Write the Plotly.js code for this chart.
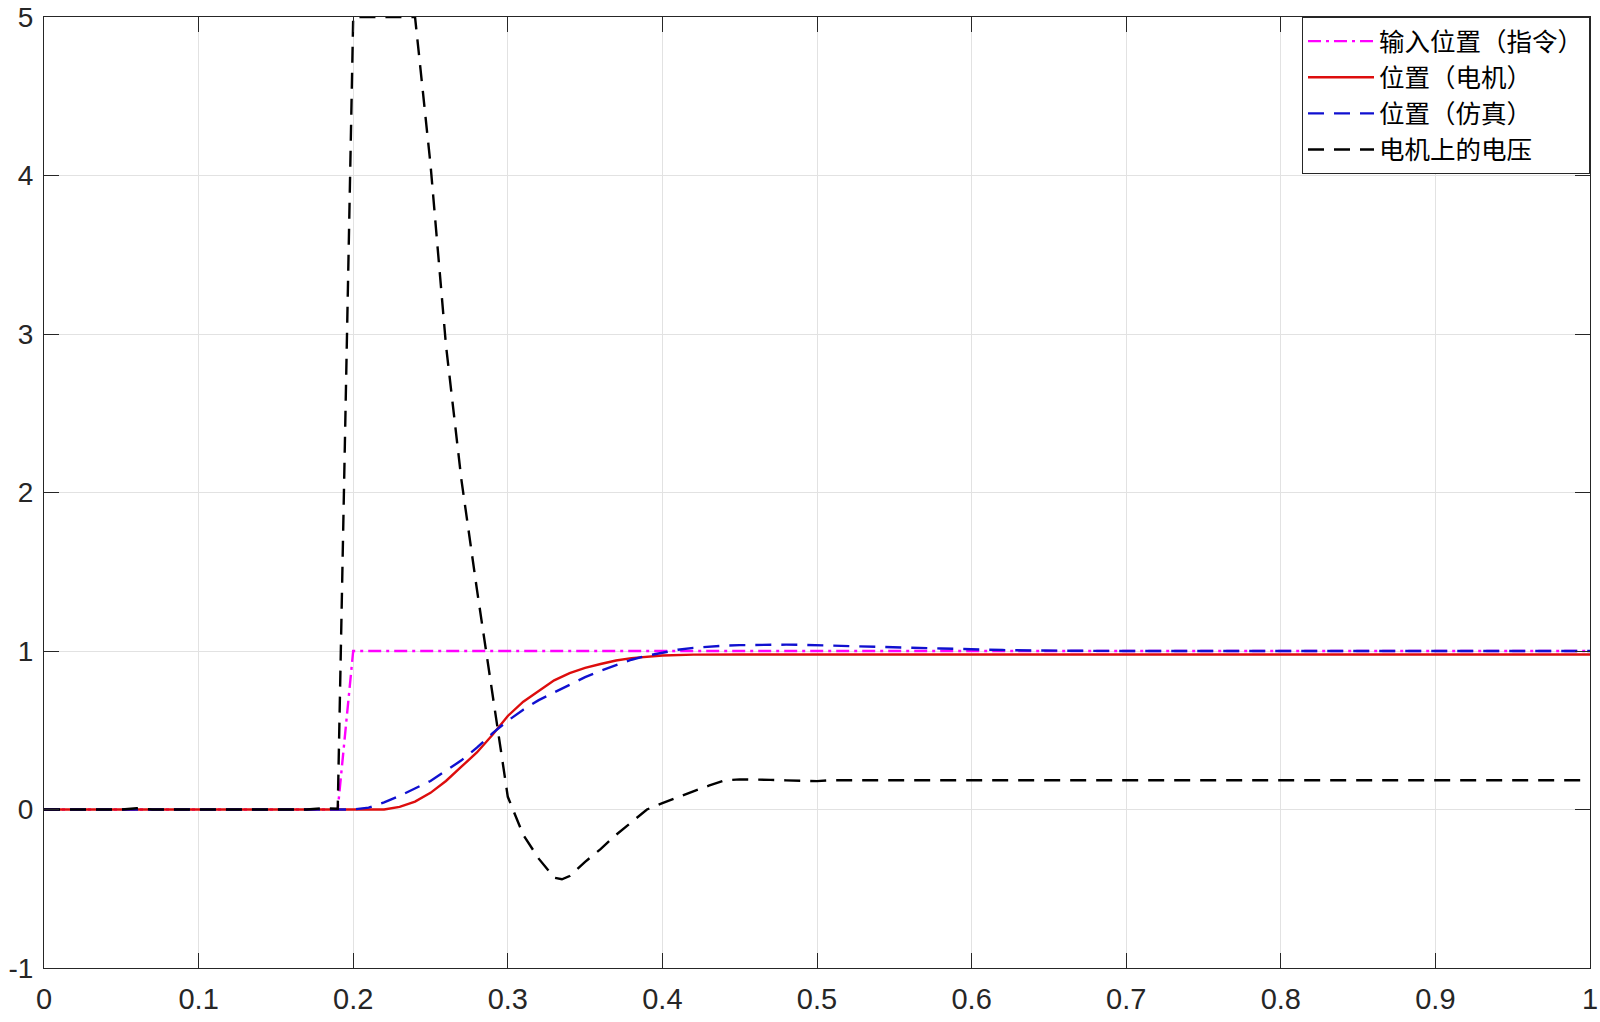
<!DOCTYPE html>
<html>
<head>
<meta charset="utf-8">
<script src="https://cdn.plot.ly/plotly-3.0.1.min.js"></script>
<style>
html,body{margin:0;padding:0;background:#fff;}
#chart{width:1600px;height:1022px;}
#chart text{text-spacing-trim: space-all;}
</style>
</head>
<body>
<div id="chart"></div>
<script>
// ---- data ----
const seriesNames = ['输入位置（指令）', '位置（电机）', '位置（仿真）', '电机上的电压'];

const tCmd = [0, 0.19, 0.2, 1.0];
const posCmd = [0, 0, 1, 1];

const tMotor = [0, 0.22, 0.23, 0.24, 0.25, 0.26, 0.27, 0.28, 0.29, 0.30, 0.31, 0.32, 0.33, 0.34, 0.35, 0.36, 0.37, 0.38, 0.39, 0.40, 0.42, 0.45, 1.0];
const posMotor = [0, 0, 0.017, 0.05, 0.105, 0.18, 0.27, 0.36, 0.47, 0.59, 0.68, 0.75, 0.815, 0.86, 0.893, 0.918, 0.94, 0.955, 0.965, 0.972, 0.977, 0.978, 0.978];

const tSim = [0, 0.20, 0.21, 0.22, 0.23, 0.24, 0.25, 0.26, 0.27, 0.28, 0.29, 0.30, 0.31, 0.32, 0.33, 0.34, 0.35, 0.36, 0.37, 0.38, 0.39, 0.40, 0.41, 0.42, 0.43, 0.44, 0.45, 0.46, 0.47, 0.48, 0.49, 0.50, 0.52, 0.54, 0.56, 0.58, 0.60, 0.62, 0.64, 0.66, 0.70, 1.0];
const posSim = [0, 0, 0.012, 0.045, 0.086, 0.135, 0.18, 0.245, 0.31, 0.39, 0.48, 0.56, 0.63, 0.69, 0.74, 0.79, 0.835, 0.875, 0.91, 0.945, 0.97, 0.99, 1.008, 1.02, 1.028, 1.034, 1.037, 1.039, 1.04, 1.04, 1.039, 1.037, 1.032, 1.027, 1.021, 1.016, 1.01, 1.006, 1.003, 1.001, 1.0, 1.0];

const tVolt = [0, 0.05, 0.06, 0.07, 0.17, 0.18, 0.19, 0.20, 0.24, 0.25, 0.26, 0.27, 0.28, 0.29, 0.30, 0.31, 0.32, 0.33, 0.335, 0.34, 0.35, 0.36, 0.37, 0.38, 0.39, 0.40, 0.41, 0.42, 0.43, 0.44, 0.45, 0.46, 0.47, 0.48, 0.49, 0.50, 0.51, 1.0];
const volt = [0, 0, 0.008, 0, 0, 0.008, 0.005, 5, 5, 4.07, 2.93, 2.08, 1.39, 0.72, 0.08, -0.16, -0.31, -0.43, -0.44, -0.42, -0.33, -0.25, -0.16, -0.08, 0.0, 0.04, 0.08, 0.115, 0.15, 0.183, 0.19, 0.19, 0.187, 0.184, 0.181, 0.179, 0.185, 0.185];

const xTickVals = [0, 0.1, 0.2, 0.3, 0.4, 0.5, 0.6, 0.7, 0.8, 0.9, 1];
const xTickText = ['0', '0.1', '0.2', '0.3', '0.4', '0.5', '0.6', '0.7', '0.8', '0.9', '1'];
const yTickVals = [-1, 0, 1, 2, 3, 4, 5];
const yTickText = ['-1', '0', '1', '2', '3', '4', '5'];

// ---- traces ----
const traces = [
  {x: tCmd, y: posCmd, name: seriesNames[0], mode: 'lines',
   line: {color: '#ff00ff', width: 2.4, dash: '13px,5px,3px,5px'}},
  {x: tMotor, y: posMotor, name: seriesNames[1], mode: 'lines',
   line: {color: '#dd0d0d', width: 2.4}},
  {x: tSim, y: posSim, name: seriesNames[2], mode: 'lines',
   line: {color: '#1010d0', width: 2.4, dash: '16px,10px'}},
  {x: tVolt, y: volt, name: seriesNames[3], mode: 'lines',
   line: {color: '#000000', width: 2.4, dash: '16px,10px'}}
];

const axisCommon = {
  showline: true, linecolor: '#262626', linewidth: 1, mirror: 'ticks',
  ticks: 'inside', ticklen: 15, tickwidth: 1, tickcolor: '#262626',
  showgrid: true, gridcolor: '#e2e2e2', gridwidth: 1,
  zeroline: false
};

const layout = {
  width: 1600, height: 1022,
  margin: {l: 44, r: 10, t: 17, b: 54, pad: 0},
  paper_bgcolor: '#ffffff', plot_bgcolor: '#ffffff',
  showlegend: true,
  xaxis: Object.assign({}, axisCommon, {
    range: [0, 1], tickmode: 'array', tickvals: xTickVals, ticktext: xTickText,
    ticklabelstandoff: 5,
    tickfont: {family: 'Liberation Sans, Arial, sans-serif', size: 29, color: '#262626'}
  }),
  yaxis: Object.assign({}, axisCommon, {
    range: [-1, 5], tickmode: 'array', tickvals: yTickVals, ticktext: yTickText,
    ticklabelstandoff: 4,
    tickfont: {family: 'Liberation Sans, Arial, sans-serif', size: 28, color: '#262626'}
  }),
  legend: {
    x: 1, y: 1, xanchor: 'right', yanchor: 'top',
    bgcolor: '#ffffff', bordercolor: '#262626', borderwidth: 1,
    font: {family: 'Noto Sans CJK SC, sans-serif', size: 25.5, color: '#000000'},
    itemwidth: 66, tracegroupgap: 0
  }
};

Plotly.newPlot('chart', traces, layout, {displayModeBar: false, staticPlot: true});
</script>
</body>
</html>
